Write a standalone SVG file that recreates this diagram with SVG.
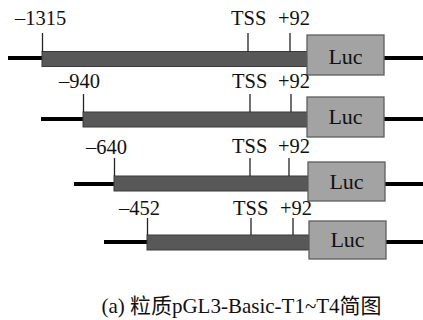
<svg xmlns="http://www.w3.org/2000/svg" width="423" height="320" viewBox="0 0 423 320">
<style>
.bb{stroke:#000;stroke-width:4;fill:none}
.bar{fill:#585858;stroke:#3a3a3a;stroke-width:1}
.tick{stroke:#222;stroke-width:1.3}
.luc{fill:#a3a3a3;stroke:#5e5e5e;stroke-width:1.3}
.t{font-family:"Liberation Serif",serif;font-size:20.5px;fill:#111}
.lt{font-family:"Liberation Serif",serif;font-size:22px;fill:#111;text-anchor:middle}
.cap{font-family:"Liberation Serif","Noto Sans CJK SC",serif;font-size:21px;fill:#111;text-anchor:middle}
</style>
<g id="row1">
<line class="bb" x1="8" y1="58" x2="43" y2="58"/>
<line class="bb" x1="384" y1="58" x2="423" y2="58"/>
<rect class="bar" x="42" y="51.5" width="266" height="15"/>
<line class="tick" x1="42.5" y1="33" x2="42.5" y2="52"/>
<line class="tick" x1="248" y1="33" x2="248" y2="52"/>
<line class="tick" x1="290" y1="33" x2="290" y2="52"/>
<rect class="luc" x="307" y="35" width="77" height="40"/>
<text class="t" x="15" y="25">–1315</text>
<text class="t" x="231" y="25">TSS</text>
<text class="t" x="278" y="25">+92</text>
<text class="lt" x="345.5" y="64">Luc</text>
</g>
<g id="row2">
<line class="bb" x1="41" y1="119" x2="84" y2="119"/>
<line class="bb" x1="384" y1="119" x2="423" y2="119"/>
<rect class="bar" x="83" y="112" width="225" height="15"/>
<line class="tick" x1="83.5" y1="94" x2="83.5" y2="112"/>
<line class="tick" x1="250" y1="94" x2="250" y2="112"/>
<line class="tick" x1="291" y1="94" x2="291" y2="112"/>
<rect class="luc" x="307" y="97" width="77" height="40"/>
<text class="t" x="59" y="88">–940</text>
<text class="t" x="232" y="88">TSS</text>
<text class="t" x="278" y="88">+92</text>
<text class="lt" x="345.5" y="124">Luc</text>
</g>
<g id="row3">
<line class="bb" x1="74" y1="184" x2="115" y2="184"/>
<line class="bb" x1="385" y1="184" x2="423" y2="184"/>
<rect class="bar" x="114" y="176" width="194" height="15"/>
<line class="tick" x1="114.5" y1="158" x2="114.5" y2="176"/>
<line class="tick" x1="250" y1="158" x2="250" y2="176"/>
<line class="tick" x1="289" y1="158" x2="289" y2="176"/>
<rect class="luc" x="308" y="162" width="77" height="39"/>
<text class="t" x="86" y="154">–640</text>
<text class="t" x="232" y="153">TSS</text>
<text class="t" x="278" y="153">+92</text>
<text class="lt" x="346.5" y="189">Luc</text>
</g>
<g id="row4">
<line class="bb" x1="104" y1="242" x2="148" y2="242"/>
<line class="bb" x1="386" y1="242" x2="423" y2="242"/>
<rect class="bar" x="147" y="235" width="162" height="15"/>
<line class="tick" x1="147.5" y1="218" x2="147.5" y2="235"/>
<line class="tick" x1="251" y1="218" x2="251" y2="235"/>
<line class="tick" x1="293" y1="218" x2="293" y2="235"/>
<rect class="luc" x="309" y="221" width="77" height="38"/>
<text class="t" x="119" y="215">–452</text>
<text class="t" x="233" y="215">TSS</text>
<text class="t" x="280" y="215">+92</text>
<text class="lt" x="347.5" y="247">Luc</text>
</g>
<g id="caption">
<text class="cap" x="241.5" y="313">(a) 粒质pGL3-Basic-T1~T4简图</text>
</g>
</svg>
